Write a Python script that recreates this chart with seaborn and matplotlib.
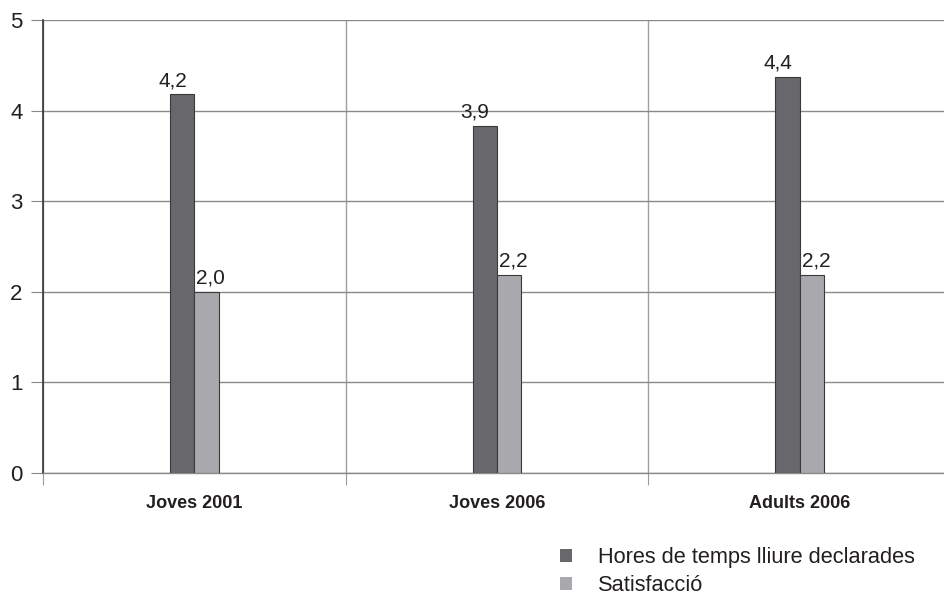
import numpy as np
import pandas as pd
import matplotlib.pyplot as plt
import seaborn as sns

groups = ["Joves 2001", "Joves 2006", "Adults 2006"]
series = ["Hores de temps lliure declarades", "Satisfacció"]
hores = [4.18, 3.83, 4.37]
satisfaccio = [2.0, 2.19, 2.19]
hores_labels = ["4,2", "3,9", "4,4"]
satisf_labels = ["2,0", "2,2", "2,2"]
yticks = [0, 1, 2, 3, 4, 5]

sns.set_theme(style="white")
plt.rcParams['font.family'] = ['Liberation Sans', 'DejaVu Sans']
txt = "#231f20"

df = pd.DataFrame({
    "grup": groups * 2,
    "serie": [series[0]] * 3 + [series[1]] * 3,
    "valor": hores + satisfaccio,
})

fig = plt.figure(figsize=(9.44, 5.96), dpi=100)
ax = fig.add_axes([43 / 944, 123 / 596, 908 / 944, 453 / 596])

sns.barplot(data=df, x="grup", y="valor", hue="serie", order=groups,
            hue_order=series, palette=["#68686c", "#a9a9ad"], width=0.16,
            edgecolor="#3a3a3a", linewidth=0.8, saturation=1, ax=ax, zorder=3)

ax.set_xlim(-0.5, 2.5)
ax.set_ylim(0, 5)
ax.set_yticks(yticks)
ax.set_yticklabels([str(v) for v in yticks], fontsize=16, color=txt)
ax.tick_params(axis="y", left=True, length=8.6, width=0.8, color="#888888", pad=6)
ax.set_xticks([-0.5, 0.5, 1.5, 2.5], minor=True)
ax.tick_params(axis="x", which="minor", bottom=True, length=8.6, width=0.8, color="#999999")
ax.tick_params(axis="x", which="major", length=0, pad=16)
ax.set_xticklabels(groups, fontsize=13, fontweight="bold", color=txt)
ax.grid(axis="y", color="#8a8a8a", linewidth=1.0, zorder=0)
ax.grid(axis="x", which="minor", color="#a0a0a0", linewidth=1.0, zorder=0)
ax.set_xlabel("")
ax.set_ylabel("")
for s in ["top", "right"]:
    ax.spines[s].set_visible(False)
ax.spines["left"].set_color("#333333")
ax.spines["left"].set_linewidth(1.2)
ax.spines["bottom"].set_color("#8a8a8a")
ax.spines["bottom"].set_linewidth(1.0)

for cont, labs, dx in zip(ax.containers, [hores_labels, satisf_labels], [-7, 3]):
    for bar, lab in zip(cont, labs):
        ax.annotate(lab, (bar.get_x() + bar.get_width() / 2, bar.get_height()),
                    xytext=(dx, 3), textcoords="offset points", ha="center",
                    va="bottom", fontsize=15, color=txt)

ax.legend(loc="upper left", bbox_to_anchor=(560 / 944, 1 - 547 / 596),
          bbox_transform=fig.transFigure, frameon=False, fontsize=15.7,
          handlelength=0.55, handleheight=0.55, handletextpad=1.2,
          labelspacing=0.32, borderpad=0, borderaxespad=0, labelcolor=txt)
for h in ax.get_legend().legend_handles:
    h.set_edgecolor("none")

fig.savefig("out.png", dpi=100)
